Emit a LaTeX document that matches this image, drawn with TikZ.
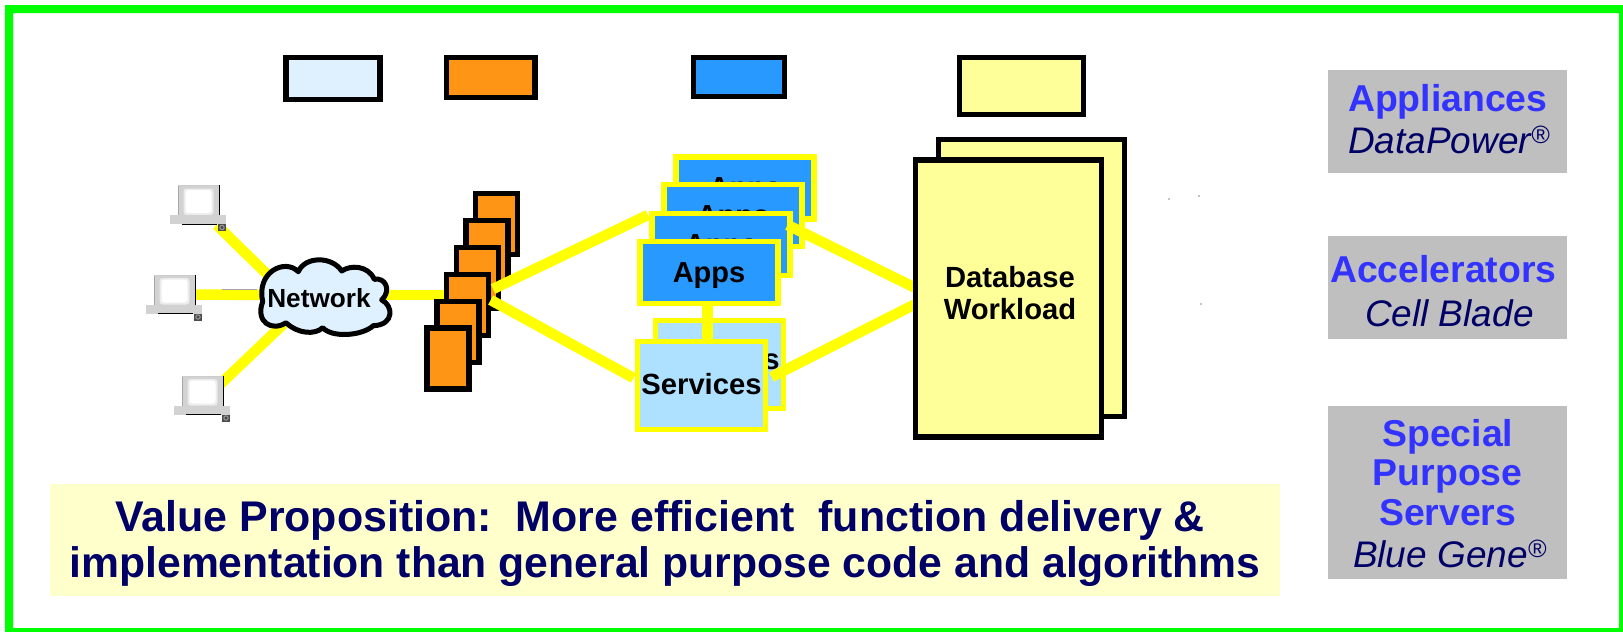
\documentclass[tikz,border=0pt]{standalone}
\usepackage{fontspec}
\setmainfont{Liberation Sans}
\usetikzlibrary{calc}
\pgfdeclarelayer{background}
\pgfdeclarelayer{front}
\pgfsetlayers{background,main,front}
\definecolor{framegreen}{HTML}{00FF00}
\definecolor{linkyellow}{HTML}{FFFF00}
\definecolor{paleblue}{HTML}{DFF0FF}
\definecolor{orangefill}{HTML}{FF9415}
\definecolor{bluefill}{HTML}{2899FF}
\definecolor{skyfill}{HTML}{AEE0FF}
\definecolor{dbyellow}{HTML}{FFFF99}
\definecolor{paleyellow}{HTML}{FFFFCC}
\definecolor{panelgray}{HTML}{BFBFBF}
\definecolor{headblue}{HTML}{3333FF}
\definecolor{navytext}{HTML}{000066}
\definecolor{pcgray}{HTML}{D2D2D2}
\tikzset{
  plainbox/.style={draw=black,line width=5.5pt,inner sep=0pt,outer sep=0pt},
  legendbox/.style={plainbox},
  orangebox/.style={plainbox,fill=orangefill,minimum width=42,minimum height=61},
  appsbox/.style={draw=linkyellow,line width=5.5pt,inner sep=0pt,outer sep=0pt,fill=bluefill,minimum width=138,minimum height=62,
     font=\fontsize{29}{30}\selectfont\bfseries,text height=22pt,text depth=3pt},
  svcbox/.style={draw=linkyellow,line width=5.5pt,inner sep=0pt,outer sep=0pt,fill=skyfill,minimum width=128,minimum height=88,
     font=\fontsize{29.2}{30}\selectfont\bfseries},
  dbbox/.style={plainbox,fill=dbyellow,minimum width=186,minimum height=277},
  panel/.style={fill=panelgray,inner sep=0pt,outer sep=0pt,minimum width=239},
  txt/.style={inner sep=0pt,outer sep=0pt,anchor=base},
  txtw/.style={inner sep=0pt,outer sep=0pt,anchor=base west},
  headtxt/.style={text=headblue,font=\fontsize{37.4}{38}\selectfont\bfseries},
  subtxt/.style={text=navytext,font=\fontsize{37}{38}\selectfont\itshape},
  valuetxt/.style={txtw,text=navytext,font=\fontsize{42.7}{44}\selectfont\bfseries},
  dbtxt/.style={txt,font=\fontsize{29.2}{30}\selectfont\bfseries},
  link/.style={draw=linkyellow,line width=10.5pt},
  pcicon/.pic={
    \fill[pcgray] (0,0) rectangle (41,30);
    \fill[gray!70] (0,0) rectangle (1,30);
    \fill[gray!40] (0,0) rectangle (41,.8);
    \fill[gray!15,rounded corners=3pt] (5.5,3.5) rectangle (35.5,30);
    \fill[white,rounded corners=3pt] (7.5,5) rectangle (33.5,28);
    \draw[black,line width=.8pt] (41,0) -- (41,30);
    \node[fill=pcgray,inner sep=0pt,outer sep=0pt,minimum width=56,minimum height=9,anchor=north west] (-base) at (-8,30) {};
    \draw[black,line width=.8pt] (4,39) -- (39,39);
    \fill[black!70] (40,39) rectangle (48,46);
    \draw[black!40,line width=1pt] (44,42.5) circle (2.2);
  }
}
\newcommand{\regmark}{\raisebox{10pt}{\fontsize{25}{25}\selectfont ®}}
\begin{document}
\begin{tikzpicture}[x=1pt,y=-1pt]
\useasboundingbox (0,0) rectangle (1623,632);
\begin{pgfonlayer}{background}
  \fill[white] (0,0) rectangle (1623,632);
\end{pgfonlayer}
\fill[framegreen,even odd rule] (5,5) rectangle (1623,632) (13,13) rectangle (1619,628);

% legend boxes
\node[legendbox,fill=paleblue,minimum width=94,minimum height=42] (keynet) at (332.75,78.5) {};
\node[legendbox,fill=orangefill,minimum width=88.5,minimum height=40] (keyweb) at (490.75,77.5) {};
\node[legendbox,fill=bluefill,minimum width=91,minimum height=39] (keyapp) at (739,77) {};
\node[legendbox,fill=dbyellow,minimum width=124,minimum height=57] (keydb) at (1021.5,86) {};

% computers
\pic (pcA) at (178,185) {pcicon};
\pic (pcB) at (154,274.5) {pcicon};
\pic (pcC) at (182,375.5) {pcicon};

% cloud
\fill[paleblue,draw=black,line width=5pt,line join=round]
  (262.7,301.7) .. controls (256,272) and (285,258) .. (298.3,271.7)
  .. controls (305,256) and (332,256) .. (341.7,271)
  .. controls (350,265) and (368,265) .. (374.3,279.3)
  .. controls (385,277) and (392,290) .. (381.7,300)
  .. controls (393,305) and (395,325) .. (373.3,325.7)
  .. controls (362,336) and (332,338) .. (322.7,327.7)
  .. controls (315,335) and (298,334) .. (286,322.7)
  .. controls (272,332) and (255,322) .. (262.7,301.7) -- cycle;
\node[txt,font=\fontsize{26.2}{28}\selectfont\bfseries] (net) at (319,307) {Network};

% web servers
\node[orangebox] (web1) at (496.5,224) {};
\node[orangebox] (web2) at (486.9,251) {};
\node[orangebox] (web3) at (477.3,278) {};
\node[orangebox] (web4) at (467.7,305) {};
\node[orangebox] (web5) at (458.1,332) {};
\node[orangebox] (web6) at (448,358.5) {};

% links below the icons
\begin{pgfonlayer}{background}
  \draw[link] ($(pcA-base.south east)+(-9.3,1)$) -- ($(net.base)+(-47,-28)$);
  \draw[link] ($(pcB-base.south east)+(-12,-19)$) -- ($(net.base)+(-50.5,-12)$);
  \draw[link] ($(pcC-base.south east)+(-10,-30)$) -- ($(net.base)+(-35.5,17)$);
  \draw[link] ($(net.base)+(61.5,-12)$) -- ($(web4.west)+(0,-10)$);
  \draw[gray!70,line width=.8pt] (222,289.5) -- (257,289.5);
\end{pgfonlayer}

% application servers
\node[appsbox] (app1) at (745,188) {Apps};
\node[appsbox] (app2) at (733,215.5) {Apps};
\node[appsbox] (app3) at (721,244.5) {Apps};
\node[appsbox] (app4) at (709,272.5) {Apps};

% services
\node[svcbox,text height=21pt,text depth=11pt] (svc2) at (719.5,364.5) {Services};
\node[svcbox,text height=21pt,text depth=2.5pt] (svc1) at (701.5,385.5) {Services};

% database
\begin{pgfonlayer}{front}
  \node[dbbox] (db2) at (1031.5,278) {};
  \node[dbbox] (db1) at (1008.5,298.5) {};
  \node[dbtxt] (dbA) at (1010,287) {Database};
  \node[dbtxt] (dbB) at (1010,319) {Workload};
\end{pgfonlayer}

% links over the boxes
\draw[link] ($(web4.east)+(4.3,-16)$) -- ($(app3.west)+(-4,-29.5)$);
\draw[link] ($(web4.east)+(2,-5)$) -- ($(svc1.west)+(-4,-7.5)$);
\draw[link] ($(app3.east)+(-2.5,-19.5)$) -- ($(db1.west)+(0,-10.5)$);
\draw[link] ($(svc2.east)+(-12,12.5)$) -- ($(db1.west)+(0,5.5)$);
\draw[draw=linkyellow,line width=11pt] ($(app4.south)+(-1.5,0)$) -- ($(svc1.north)+(6,0)$);

% stray specks
\fill[black] (1169,199) circle (.6) (1199,196) circle (.6) (1201,304) circle (.6);

% right panels
\node[panel,minimum height=103] (panelA) at (1447.5,121.5) {};
\node[panel,minimum height=103] (panelB) at (1447.5,287.5) {};
\node[panel,minimum height=173] (panelC) at (1447.5,492.5) {};
\node[txtw,headtxt] (panelAa) at (1348,111) {Appliances};
\node[txtw,subtxt] (panelAb) at (1348,153) {DataPower\regmark};
\node[txtw,headtxt] (panelBa) at (1330,282) {Accelerators};
\node[txtw,subtxt] (panelBb) at (1365,326) {Cell Blade};
\node[txt,headtxt] (panelCa) at (1447.7,446) {Special};
\node[txt,headtxt] (panelCb) at (1447.7,485.5) {Purpose};
\node[txt,headtxt] (panelCc) at (1447.7,525.5) {Servers};
\node[txtw,subtxt] (panelCd) at (1353,567.5) {Blue Gene\regmark};

% value proposition
\node[fill=paleyellow,inner sep=0pt,outer sep=0pt,minimum width=1230,minimum height=112] (valuebox) at (665,540) {};
\node[valuetxt,font=\fontsize{42.9}{44}\selectfont\bfseries] (valueA) at (115.5,531) {Value Proposition:\ \ More efficient\ \ function delivery \&};
\node[valuetxt] (valueB) at (69.5,577) {implementation than general purpose code and algorithms};
\end{tikzpicture}
\end{document}
